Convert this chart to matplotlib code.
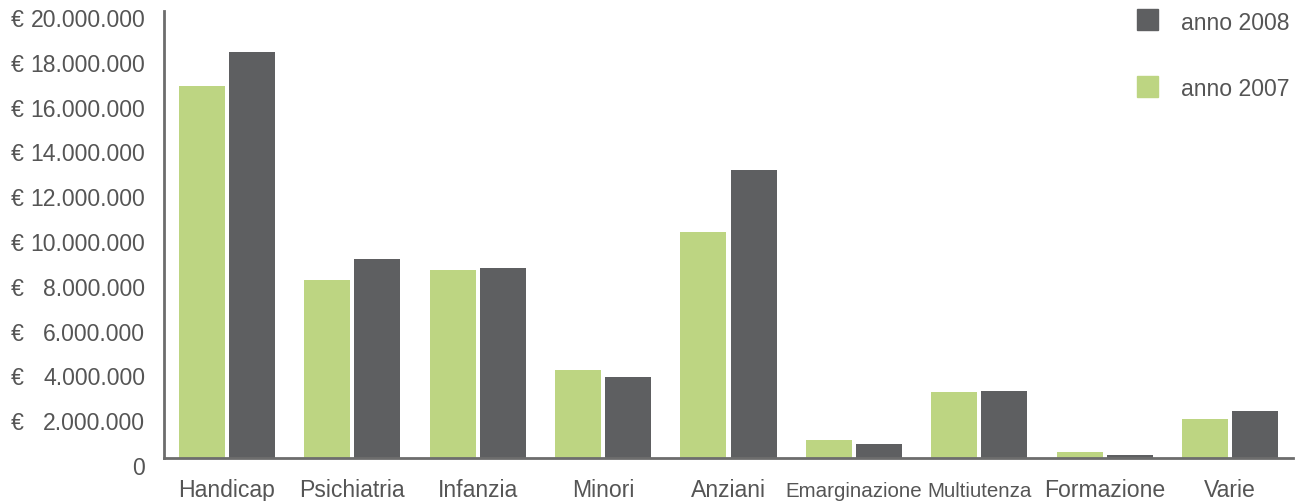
import numpy as np
import matplotlib
matplotlib.use("Agg")
import matplotlib.pyplot as plt
import matplotlib.transforms as mtransforms
from matplotlib.patches import Rectangle

plt.rcParams['font.family'] = ['Liberation Sans', 'DejaVu Sans']

categories = ["Handicap", "Psichiatria", "Infanzia", "Minori", "Anziani",
              "Emarginazione", "Multiutenza", "Formazione", "Varie"]
anno_2007 = [16.92e6, 8.26e6, 8.71e6, 4.24e6, 10.40e6, 1.12e6, 3.26e6, 0.58e6, 2.05e6]
anno_2008 = [18.44e6, 9.20e6, 8.79e6, 3.93e6, 13.17e6, 0.94e6, 3.30e6, 0.45e6, 2.41e6]
series_names = ["anno 2008", "anno 2007"]
yticks = [0, 2e6, 4e6, 6e6, 8e6, 10e6, 12e6, 14e6, 16e6, 18e6, 20e6]

green = "#bdd582"
dark = "#5e5f61"
txt = "#555555"
axc = "#6d6d6d"
fs = 16.6

BASE = 0.31e6  # baseline where the axis line sits

fig = plt.figure(figsize=(13.06, 5.02), dpi=100)
ax = fig.add_axes([164/1306, 36/502, 1129/1306, 454/502])

x = np.arange(len(categories))
w = 0.367
ax.bar(x - 0.2, np.array(anno_2007) - BASE, w, bottom=BASE, color=green, zorder=2)
ax.bar(x + 0.2, np.array(anno_2008) - BASE, w, bottom=BASE, color=dark, zorder=2)

ax.set_xlim(-0.5, 8.5)
ax.set_ylim(0, 20.27e6)

for s in ["top", "right"]:
    ax.spines[s].set_visible(False)
ax.spines["bottom"].set_position(("data", BASE))
ax.spines["left"].set_bounds(BASE, 20.27e6)
for s in ["left", "bottom"]:
    ax.spines[s].set_color(axc)
    ax.spines[s].set_linewidth(2)
    ax.spines[s].set_zorder(3)

ax.set_yticks(yticks)
ax.set_yticklabels(["0" if v == 0 else "{:,.0f}".format(v).replace(",", ".") for v in yticks],
                   va="center_baseline")
ax.tick_params(axis="y", length=0, pad=13.5, labelsize=fs, labelcolor=txt)
ax.set_xticks(x)
ax.set_xticklabels(categories, va="baseline")
ax.tick_params(axis="x", length=0, pad=27, labelsize=fs, labelcolor=txt)
# the two long labels are squeezed in the original
for lab in ax.get_xticklabels():
    if lab.get_text() in ("Emarginazione", "Multiutenza"):
        lab.set_fontsize(14.8)

# euro sign aligned on the left
trans = mtransforms.blended_transform_factory(fig.transFigure, ax.transData)
for v in yticks[1:]:
    ax.text(11/1306, v, "€", transform=trans, ha="left", va="center_baseline",
            fontsize=fs, color=txt, clip_on=False)

# legend
for i, (name, col) in enumerate(zip(series_names, [dark, green])):
    ytop = 10 + i * 67
    fig.patches.append(Rectangle((1137/1306, 1 - (ytop + 21)/502), 21/1306, 21/502,
                                 transform=fig.transFigure, color=col))
    fig.text(1181/1306, 1 - (ytop + 10.5)/502, name, ha="left", va="center_baseline",
             fontsize=fs, color=txt)

fig.savefig("out.png", dpi=100)
